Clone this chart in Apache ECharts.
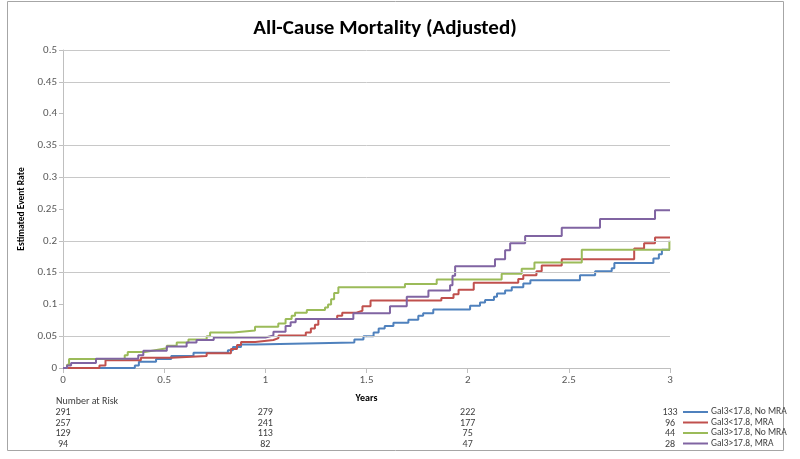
<!DOCTYPE html>
<html><head><meta charset="utf-8">
<script src="https://cdn.jsdelivr.net/npm/echarts@6/dist/echarts.min.js"></script>
<style>html,body{margin:0;padding:0;background:#fff}#c{width:800px;height:459px}</style>
</head><body><div id="c"></div>
<script>
// ---- data ----
const seriesNames = ['Gal3<17.8, No MRA', 'Gal3<17.8, MRA', 'Gal3>17.8, No MRA', 'Gal3>17.8, MRA'];
const seriesColors = ['#4F81BD', '#C0504D', '#9BBB59', '#8064A2'];

const lowNoMraTimes = [0, 0.355, 0.375, 0.46, 0.535, 0.645, 0.815, 0.84, 0.88, 0.95, 1.44, 1.485, 1.535, 1.56, 1.59, 1.633, 1.707, 1.756, 1.78, 1.83, 2.012, 2.061, 2.086, 2.13, 2.145, 2.185, 2.218, 2.275, 2.31, 2.555, 2.63, 2.712, 2.725, 2.918, 2.945, 2.96, 3.0];
const lowNoMraRates = [0, 0.004, 0.01, 0.014, 0.019, 0.024, 0.028, 0.033, 0.037, 0.04, 0.045, 0.05, 0.056, 0.062, 0.066, 0.071, 0.076, 0.082, 0.086, 0.092, 0.098, 0.103, 0.107, 0.112, 0.117, 0.122, 0.127, 0.133, 0.138, 0.146, 0.152, 0.157, 0.165, 0.172, 0.179, 0.186, 0.186];

const lowMraTimes = [0, 0.18, 0.21, 0.385, 0.535, 0.71, 0.83, 0.86, 0.88, 0.95, 1.04, 1.065, 1.2, 1.225, 1.245, 1.262, 1.355, 1.38, 1.45, 1.48, 1.52, 1.87, 1.93, 1.955, 2.03, 2.25, 2.275, 2.34, 2.366, 2.465, 2.823, 2.872, 2.926, 3.0];
const lowMraRates = [0, 0.004, 0.012, 0.016, 0.019, 0.023, 0.03, 0.036, 0.041, 0.044, 0.047, 0.051, 0.056, 0.062, 0.068, 0.077, 0.082, 0.087, 0.09, 0.097, 0.106, 0.11, 0.116, 0.123, 0.134, 0.14, 0.146, 0.152, 0.161, 0.171, 0.188, 0.196, 0.205, 0.205];

const highNoMraTimes = [0, 0.02, 0.03, 0.305, 0.32, 0.405, 0.455, 0.513, 0.562, 0.62, 0.71, 0.727, 0.842, 0.949, 1.064, 1.1, 1.13, 1.147, 1.205, 1.295, 1.31, 1.325, 1.34, 1.361, 1.69, 1.847, 2.168, 2.267, 2.33, 2.564, 2.997, 3.0];
const highNoMraRates = [0, 0.005, 0.014, 0.02, 0.025, 0.028, 0.031, 0.035, 0.04, 0.045, 0.05, 0.056, 0.059, 0.065, 0.07, 0.077, 0.082, 0.087, 0.091, 0.095, 0.1, 0.108, 0.118, 0.127, 0.132, 0.139, 0.148, 0.156, 0.166, 0.186, 0.2, 0.2];

const highMraTimes = [0, 0.02, 0.04, 0.163, 0.372, 0.397, 0.513, 0.611, 0.66, 0.745, 1.0, 1.04, 1.1, 1.125, 1.15, 1.435, 1.616, 1.699, 1.806, 1.913, 1.925, 1.938, 2.135, 2.185, 2.21, 2.284, 2.465, 2.654, 2.926, 3.0];
const highMraRates = [0, 0.004, 0.008, 0.0145, 0.02, 0.027, 0.034, 0.04, 0.044, 0.048, 0.051, 0.057, 0.066, 0.072, 0.077, 0.086, 0.097, 0.112, 0.122, 0.13, 0.145, 0.16, 0.171, 0.185, 0.196, 0.2075, 0.2206, 0.2343, 0.248, 0.248];

const riskTimes = [0, 1, 2, 3];
const riskLowNoMra = [291, 279, 222, 133];
const riskLowMra = [257, 241, 177, 96];
const riskHighNoMra = [129, 113, 75, 44];
const riskHighMra = [94, 82, 47, 28];

const yTicks = { min: 0, max: 0.5, interval: 0.05 };
const xTicks = { min: 0, max: 3, interval: 0.5 };
// horizontal gridlines visible in the reference picture
const gridValues = [0.05, 0.15, 0.2, 0.3, 0.35, 0.45, 0.5];

// ---- chart ----
const FONT = 'Carlito, Lato, "Open Sans", sans-serif';
const zip = (t, v) => t.map((x, i) => [x, v[i]]);
const allTimes = [lowNoMraTimes, lowMraTimes, highNoMraTimes, highMraTimes];
const allRates = [lowNoMraRates, lowMraRates, highNoMraRates, highMraRates];
const allRisk = [riskLowNoMra, riskLowMra, riskHighNoMra, riskHighMra];

const chart = echarts.init(document.getElementById('c'), null, { renderer: 'canvas' });

const curveSeries = seriesNames.map((n, i) => ({
  name: n, type: 'line', step: 'end', symbol: 'none', showSymbol: false, z: 3,
  data: zip(allTimes[i], allRates[i]),
  lineStyle: { color: seriesColors[i], width: 2 },
  itemStyle: { color: seriesColors[i] }
}));

const gridSeries = {
  name: '_grid', type: 'line', data: [], z: 1, silent: true,
  markLine: {
    silent: true, symbol: 'none', animation: false,
    label: { show: false },
    lineStyle: { color: '#c8c8c8', type: 'solid', width: 1 },
    emphasis: { disabled: true },
    data: gridValues.map(v => ({ yAxis: v }))
  }
};

chart.setOption({
  animation: false,
  backgroundColor: '#fff',
  title: {
    text: 'All-Cause Mortality (Adjusted)',
    left: 380, top: 13, textAlign: 'center',
    textStyle: { fontFamily: FONT, fontSize: 21, fontWeight: 'bold', color: '#000' }
  },
  grid: { left: 63, right: 130, top: 50, bottom: 91 },
  legend: {
    orient: 'vertical', left: 683, top: 407, padding: 0,
    icon: 'rect', itemWidth: 25, itemHeight: 2, itemGap: 0.5,
    textStyle: { fontFamily: FONT, fontSize: 9.5, color: '#404040', lineHeight: 10, padding: [0, 0, 0, -2] },
    data: seriesNames
  },
  xAxis: {
    type: 'value', min: xTicks.min, max: xTicks.max, interval: xTicks.interval,
    name: 'Years', nameLocation: 'middle', nameGap: 25,
    nameTextStyle: { fontFamily: FONT, fontSize: 10, fontWeight: 'bold', color: '#000' },
    axisLine: { show: true, lineStyle: { color: '#bfbfbf', width: 1 } },
    axisTick: { show: true, length: 5, lineStyle: { color: '#bfbfbf' } },
    axisLabel: { fontFamily: FONT, fontSize: 11, color: '#595959', margin: 7 },
    splitLine: { show: false }
  },
  yAxis: {
    type: 'value', min: yTicks.min, max: yTicks.max, interval: yTicks.interval,
    name: 'Estimated Event Rate', nameLocation: 'middle', nameGap: 33,
    nameTextStyle: { fontFamily: FONT, fontSize: 9.5, fontWeight: 'bold', color: '#000' },
    axisLine: { show: true, lineStyle: { color: '#bfbfbf', width: 1 } },
    axisTick: { show: true, length: 4, lineStyle: { color: '#bfbfbf' } },
    axisLabel: { fontFamily: FONT, fontSize: 11, color: '#595959', margin: 6 },
    splitLine: { show: false }
  },
  series: [gridSeries].concat(curveSeries)
});

function addGraphics() {
  const g = [];
  g.push({
    type: 'rect', silent: true,
    shape: { x: 7.5, y: 1.5, width: 776, height: 449 },
    style: { fill: 'none', stroke: '#a6a6a6', lineWidth: 1 }
  });
  const x0 = chart.convertToPixel({ xAxisIndex: 0 }, riskTimes[0]);
  g.push({
    type: 'text', silent: true, x: x0 - 7, y: 401,
    style: { text: 'Number at Risk', font: '10px ' + FONT, fill: '#404040', align: 'left', verticalAlign: 'middle' }
  });
  allRisk.forEach((row, r) => {
    row.forEach((n, k) => {
      const px = chart.convertToPixel({ xAxisIndex: 0 }, riskTimes[k]);
      g.push({
        type: 'text', silent: true, x: px, y: 412.5 + r * 10.5,
        style: { text: String(n), font: '10px ' + FONT, fill: '#404040', align: 'center', verticalAlign: 'middle' }
      });
    });
  });
  chart.setOption({ graphic: g });
}
addGraphics();
</script>
</body></html>
